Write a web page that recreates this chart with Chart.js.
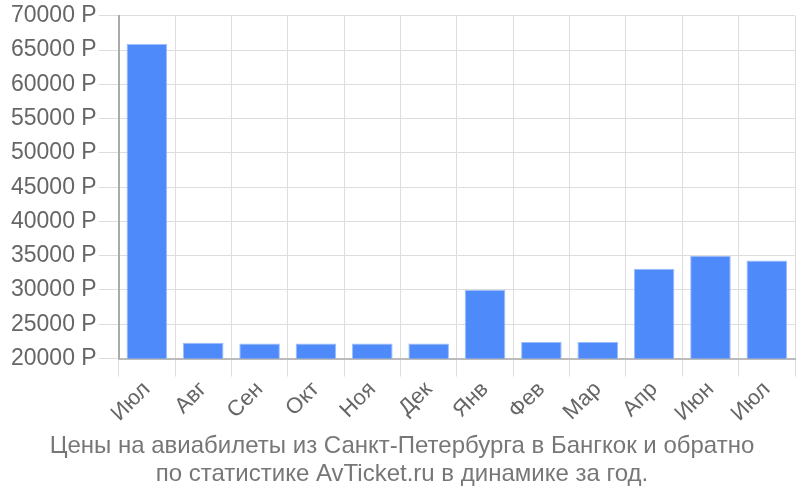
<!DOCTYPE html>
<html>
<head>
<meta charset="utf-8">
<script src="https://cdn.jsdelivr.net/npm/chart.js@4/dist/chart.umd.min.js"></script>
<style>
html,body{margin:0;padding:0;background:#fff;}
#wrap{width:800px;height:500px;}
</style>
</head>
<body>
<div id="wrap"><canvas id="c" width="800" height="500"></canvas></div>
<script>
const categories = ["Июл","Авг","Сен","Окт","Ноя","Дек","Янв","Фев","Мар","Апр","Июн","Июл"];
const prices = [65900, 22300, 22200, 22200, 22200, 22200, 30000, 22400, 22400, 33100, 35000, 34300];
const titleLines = ["Цены на авиабилеты из Санкт-Петербурга в Бангкок и обратно","по статистике AvTicket.ru в динамике за год."];
const currency = " Р";

new Chart(document.getElementById('c'), {
  type: 'bar',
  data: {
    labels: categories,
    datasets: [{
      data: prices,
      backgroundColor: '#4e8af9',
      borderColor: '#9dbcfb',
      borderWidth: {top:1, left:1, right:1, bottom:0}
    }]
  },
  options: {
    responsive: false,
    animation: false,
    layout: {padding: {top: 4, right: 5, left: 9, bottom: 0}},
    plugins: {
      legend: {display: false},
      tooltip: {enabled: false},
      title: {
        display: true,
        position: 'bottom',
        text: titleLines,
        color: '#777',
        font: {family: 'Liberation Sans, Arial, sans-serif', size: 24, weight: 'normal', lineHeight: 1.15},
        padding: {top: 6, bottom: 12}
      }
    },
    scales: {
      x: {
        grid: {color: '#dddddd', drawTicks: true, tickLength: 18, offset: true},
        border: {color: '#bbbbbb', width: 2},
        ticks: {
          color: '#666',
          font: {family: 'Liberation Sans, Arial, sans-serif', size: 22},
          maxRotation: 45, minRotation: 45,
          padding: 0
        }
      },
      y: {
        min: 20000, max: 70000,
        grid: {color: '#dddddd', tickLength: 20},
        border: {color: '#aaaaaa', width: 2},
        ticks: {
          stepSize: 5000,
          color: '#666',
          padding: 2,
          font: {family: 'Liberation Sans, Arial, sans-serif', size: 23},
          callback: v => v + currency
        }
      }
    }
  }
});
</script>
</body>
</html>
